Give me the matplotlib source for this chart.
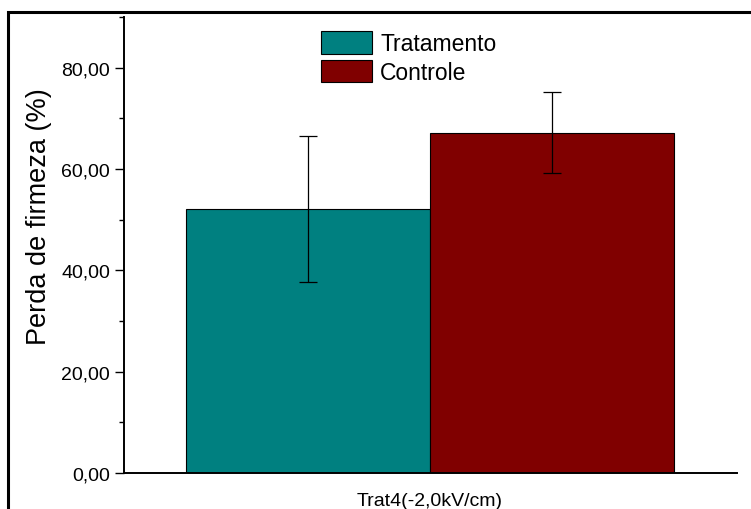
import matplotlib
matplotlib.use("Agg")
import matplotlib.pyplot as plt
from matplotlib.patches import Rectangle
from matplotlib.ticker import MultipleLocator, FuncFormatter

plt.rcParams['font.family'] = ['Liberation Sans', 'DejaVu Sans']

# Data
groups = ["Tratamento", "Controle"]
means = [52.15, 67.2]
errors = [14.4, 8.0]
colors = ["#008080", "#800000"]
category_label = "Trat4(-2,0kV/cm)"
ylabel = "Perda de firmeza (%)"

fig = plt.figure(figsize=(7.51, 5.10), dpi=100)
ax = fig.add_axes([0.1651, 0.0706, 0.9814 - 0.1651, 0.9647 - 0.0706])

positions = [0, 1]
for pos, m, e, c, g in zip(positions, means, errors, colors, groups):
    ax.bar(pos, m, width=1.0, color=c, edgecolor="black", linewidth=0.8, label=g, zorder=2)
    ax.errorbar(pos, m, yerr=e, fmt="none", ecolor="black", elinewidth=0.9,
                capsize=6.3, capthick=0.9, zorder=3)

ax.set_xlim(-0.754, 1.758)
ax.set_ylim(0, 90)
ax.set_xticks([0.5])
ax.set_xticklabels([category_label], fontsize=14)
ax.tick_params(axis="x", length=0, pad=13.5)

ax.yaxis.set_major_locator(MultipleLocator(20))
ax.yaxis.set_minor_locator(MultipleLocator(10))
ax.yaxis.set_major_formatter(FuncFormatter(lambda v, p: f"{v:.2f}".replace(".", ",")))
ax.tick_params(axis="y", which="major", direction="out", length=6.5, width=1.0,
               labelsize=14, pad=3.5)
ax.tick_params(axis="y", which="minor", direction="out", length=3.5, width=1.0)
ax.set_ylabel(ylabel, fontsize=19.5, labelpad=6)
ax.yaxis.set_label_coords(-0.118, 0.5636)

for side in ("top", "right"):
    ax.spines[side].set_visible(False)
for side in ("left", "bottom"):
    ax.spines[side].set_linewidth(1.4)

leg = ax.legend(loc="upper left", bbox_to_anchor=(321 / 751, 1 - 32 / 510),
                bbox_transform=fig.transFigure, frameon=False, fontsize=16.5,
                handlelength=2.23, handleheight=1.15, handletextpad=0.35,
                labelspacing=0.2, borderpad=0, borderaxespad=0)

# Outer frame around the figure
frame = Rectangle((8 / 751, -0.2), 1.2, 1 - 13 / 510 + 0.2, transform=fig.transFigure,
                  fill=False, edgecolor="black", linewidth=2.2, clip_on=False)
fig.patches.append(frame)

fig.savefig("out.png", dpi=100)
